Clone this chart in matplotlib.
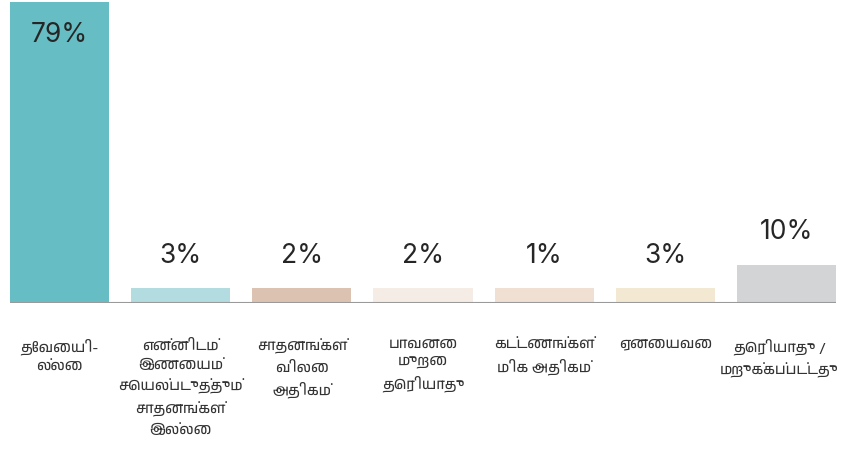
import numpy as np
import matplotlib
matplotlib.use('Agg')
import matplotlib.pyplot as plt
from matplotlib import font_manager as fm

categories = ['தேவையி-\nல்லை',
              'என்னிடம்\nஇணையம்\nசெயல்படுத்தும்\nசாதனங்கள்\nஇல்லை',
              'சாதனங்கள்\nவிலை\nஅதிகம்',
              'பாவனை\nமுறை\nதெரியாது',
              'கட்டணங்கள்\nமிக அதிகம்',
              'ஏனையவை',
              'தெரியாது /\nமறுக்கப்பட்டது']
values = [79, 3, 2, 2, 1, 3, 10]
value_labels = ['79%', '3%', '2%', '2%', '1%', '3%', '10%']
colors = ['#66bec4', '#b3dce1', '#dcc2b0', '#f5ece6', '#f0e0d3', '#f3e8d2', '#d3d4d6']

# tamil font if there is one, else fall back
tamil = sorted({f.name for f in fm.fontManager.ttflist if 'Tamil' in f.name})
label_family = tamil + ['Noto Sans', 'DejaVu Sans']
num_family = ['Inter', 'DejaVu Sans']

# small bars get a minimum visible height, like the original
min_height = 3.9
heights = np.maximum(values, min_height)

fig = plt.figure(figsize=(8.41, 4.57), dpi=100)
ax = fig.add_axes([10 / 841, 154 / 457, 826 / 841, 303 / 457])

x = np.arange(len(values))
ax.bar(x, heights, width=0.818, color=colors, zorder=2)
ax.axhline(0, color='#9a9a9a', linewidth=1.5, zorder=3)

ax.set_xlim(-0.409, len(values) - 1 + 0.409)
ax.set_ylim(0, 79 * 303 / 301)
ax.axis('off')

for i, (h, lab) in enumerate(zip(heights, value_labels)):
    dy = -24 if h > 40 else 23.5
    ax.annotate(lab, (i, h), xytext=(0, dy), textcoords='offset points',
                ha='center', va='center', fontsize=19, color='#262626',
                family=num_family)

for i, cat in enumerate(categories):
    # last label is wide, nudge it so it stays inside the figure
    dx = -5 if i == len(categories) - 1 else 0
    ax.annotate(cat, (i, 0), xytext=(dx, -25.5), textcoords='offset points',
                ha='center', va='top', fontsize=10.5, color='#333333',
                linespacing=1.6, family=label_family, annotation_clip=False)

plt.savefig('out.png', dpi=100)
plt.close()
